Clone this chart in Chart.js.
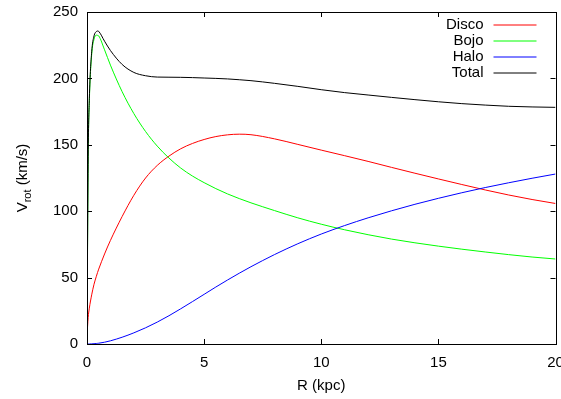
<!DOCTYPE html>
<html>
<head>
<meta charset="utf-8">
<script src="https://cdn.jsdelivr.net/npm/chart.js@4.4.1/dist/chart.umd.min.js"></script>
<style>
  html, body { margin: 0; padding: 0; background: #fff; }
  #wrap { width: 561px; height: 399px; }
</style>
</head>
<body>
<div id="wrap"><canvas id="myChart" width="561" height="399"></canvas></div>
<script>
// radios (kpc) y velocidades (km/s)
const radios = [0, 0.05, 0.1, 0.2, 0.3, 0.4, 0.45, 0.5, 0.75, 1, 1.5, 2, 2.5, 3, 3.5, 4, 4.5, 5, 5.5, 6, 6.5, 7, 8, 9, 10, 11, 12, 13, 14, 15, 16, 17, 18, 19, 20];
const vDisco = [6, 20, 27, 37, 45, 51, 53.8, 56.4, 67.8, 78, 96, 112, 125, 134.5, 141.5, 147, 151, 154, 156.2, 157.5, 158, 157.6, 154.5, 150.3, 146, 141.8, 137.5, 133, 128.6, 124.3, 120.1, 116, 112.2, 108.8, 105.8];
const vBojo = [0, 140, 183, 218, 229.5, 232.6, 232.4, 232, 221.5, 210, 190, 173.5, 160, 149, 140, 132.5, 126.5, 121.5, 117, 113, 109.5, 106.3, 100.5, 95, 90.2, 86, 82.3, 79, 76.2, 73.7, 71.4, 69.3, 67.3, 65.5, 64];
const vHalo = [0, 0.01, 0.02, 0.1, 0.22, 0.38, 0.49, 0.6, 1.35, 2.4, 5.1, 8.4, 12.2, 16.5, 21.3, 26.5, 31.9, 37.4, 42.9, 48.2, 53.3, 58.2, 67.3, 75.5, 82.8, 89.2, 95, 100.3, 105.2, 109.7, 113.9, 117.8, 121.4, 124.8, 128];
const vTotal = [6, 141, 185, 220, 232, 235.3, 235.7, 235.4, 228, 221, 210.5, 204.5, 202, 201, 200.9, 200.8, 200.6, 200.3, 200, 199.6, 199, 198.3, 196.3, 194, 191.5, 189.3, 187.5, 185.7, 184, 182.4, 181, 179.9, 179, 178.5, 178.2];

const etiquetas = ['Disco', 'Bojo', 'Halo', 'Total'];
const colores = ['#ff0000', '#00ff00', '#0000ff', '#000000'];
const xTicks = [0, 5, 10, 15, 20];
const yTicks = [0, 50, 100, 150, 200, 250];

const FONT = '"Liberation Sans", Arial, Helvetica, sans-serif';

function puntos(vals) {
    return radios.map((r, i) => ({ x: r, y: vals[i] }));
}

// marco tipo gnuplot: borde, ticks hacia dentro, leyenda y titulo del eje y
const marcoGnuplot = {
    id: 'marcoGnuplot',
    afterDatasetsDraw(chart) {
        const ctx = chart.ctx;
        const a = chart.chartArea;
        const xs = chart.scales.x, ys = chart.scales.y;
        ctx.save();
        ctx.strokeStyle = '#000';
        ctx.lineWidth = 1;
        ctx.beginPath();
        xTicks.forEach(t => {
            const px = Math.round(xs.getPixelForValue(t)) + 0.5;
            ctx.moveTo(px, a.bottom); ctx.lineTo(px, a.bottom - 5);
            ctx.moveTo(px, a.top); ctx.lineTo(px, a.top + 5);
        });
        yTicks.forEach(t => {
            const py = Math.round(ys.getPixelForValue(t)) + 0.5;
            ctx.moveTo(a.left, py); ctx.lineTo(a.left + 5, py);
            ctx.moveTo(a.right, py); ctx.lineTo(a.right - 5, py);
        });
        ctx.stroke();
        ctx.strokeRect(Math.round(a.left) + 0.5, Math.round(a.top) + 0.5,
            Math.round(a.right - a.left), Math.round(a.bottom - a.top));

        // leyenda (texto a la izquierda, muestra de linea a la derecha)
        ctx.font = '15px ' + FONT;
        ctx.textAlign = 'right';
        ctx.textBaseline = 'middle';
        etiquetas.forEach((txt, i) => {
            const y = Math.round(a.top + 13 + i * 16);
            ctx.fillStyle = '#000';
            ctx.fillText(txt, a.right - 72, y);
            ctx.strokeStyle = colores[i];
            ctx.beginPath();
            ctx.moveTo(a.right - 62, y);
            ctx.lineTo(a.right - 19, y);
            ctx.stroke();
        });

        // titulo eje y con subindice: V_rot (km/s)
        ctx.translate(22, (a.top + a.bottom) / 2);
        ctx.rotate(-Math.PI / 2);
        ctx.fillStyle = '#000';
        ctx.textBaseline = 'alphabetic';
        ctx.textAlign = 'left';
        const fBig = '15px ' + FONT, fSmall = '11px ' + FONT;
        ctx.font = fBig; const wV = ctx.measureText('V').width;
        const wP = ctx.measureText(' (km/s)').width;
        ctx.font = fSmall; const wR = ctx.measureText('rot').width;
        const x0 = -(wV + wR + wP) / 2;
        ctx.font = fBig; ctx.fillText('V', x0, 5);
        ctx.font = fSmall; ctx.fillText('rot', x0 + wV, 9);
        ctx.font = fBig; ctx.fillText(' (km/s)', x0 + wV + wR, 5);
        ctx.restore();
    }
};

const ctx = document.getElementById('myChart').getContext('2d');

new Chart(ctx, {
    type: 'line',
    data: {
        datasets: [vDisco, vBojo, vHalo, vTotal].map((v, i) => ({
            label: etiquetas[i],
            data: puntos(v),
            borderColor: colores[i],
            backgroundColor: colores[i],
            borderWidth: 1,
            pointRadius: 0,
            cubicInterpolationMode: 'monotone',
            order: 4 - i
        }))
    },
    options: {
        responsive: false,
        animation: false,
        layout: { padding: { left: 0, top: 12, right: 5.5, bottom: 0 } },
        plugins: {
            legend: { display: false },
            tooltip: { enabled: false }
        },
        scales: {
            x: {
                type: 'linear',
                min: 0,
                max: 20,
                afterBuildTicks: s => { s.ticks = xTicks.map(v => ({ value: v })); },
                afterFit: s => { s.height = 55; s.paddingLeft = 0; s.paddingRight = 0; },
                grid: { display: false, drawTicks: false },
                border: { display: false },
                ticks: { color: '#000', font: { family: FONT, size: 15 }, padding: 10, maxRotation: 0 },
                title: {
                    display: true,
                    text: 'R (kpc)',
                    color: '#000',
                    font: { family: FONT, size: 15 },
                    padding: { top: 0, bottom: 4 }
                }
            },
            y: {
                type: 'linear',
                min: 0,
                max: 250,
                afterBuildTicks: s => { s.ticks = yTicks.map(v => ({ value: v })); },
                afterFit: s => { s.width = 87; s.paddingTop = 0; s.paddingBottom = 0; },
                grid: { display: false, drawTicks: false },
                border: { display: false },
                ticks: { color: '#000', font: { family: FONT, size: 15 }, padding: 9 }
            }
        }
    },
    plugins: [marcoGnuplot]
});
</script>
</body>
</html>
